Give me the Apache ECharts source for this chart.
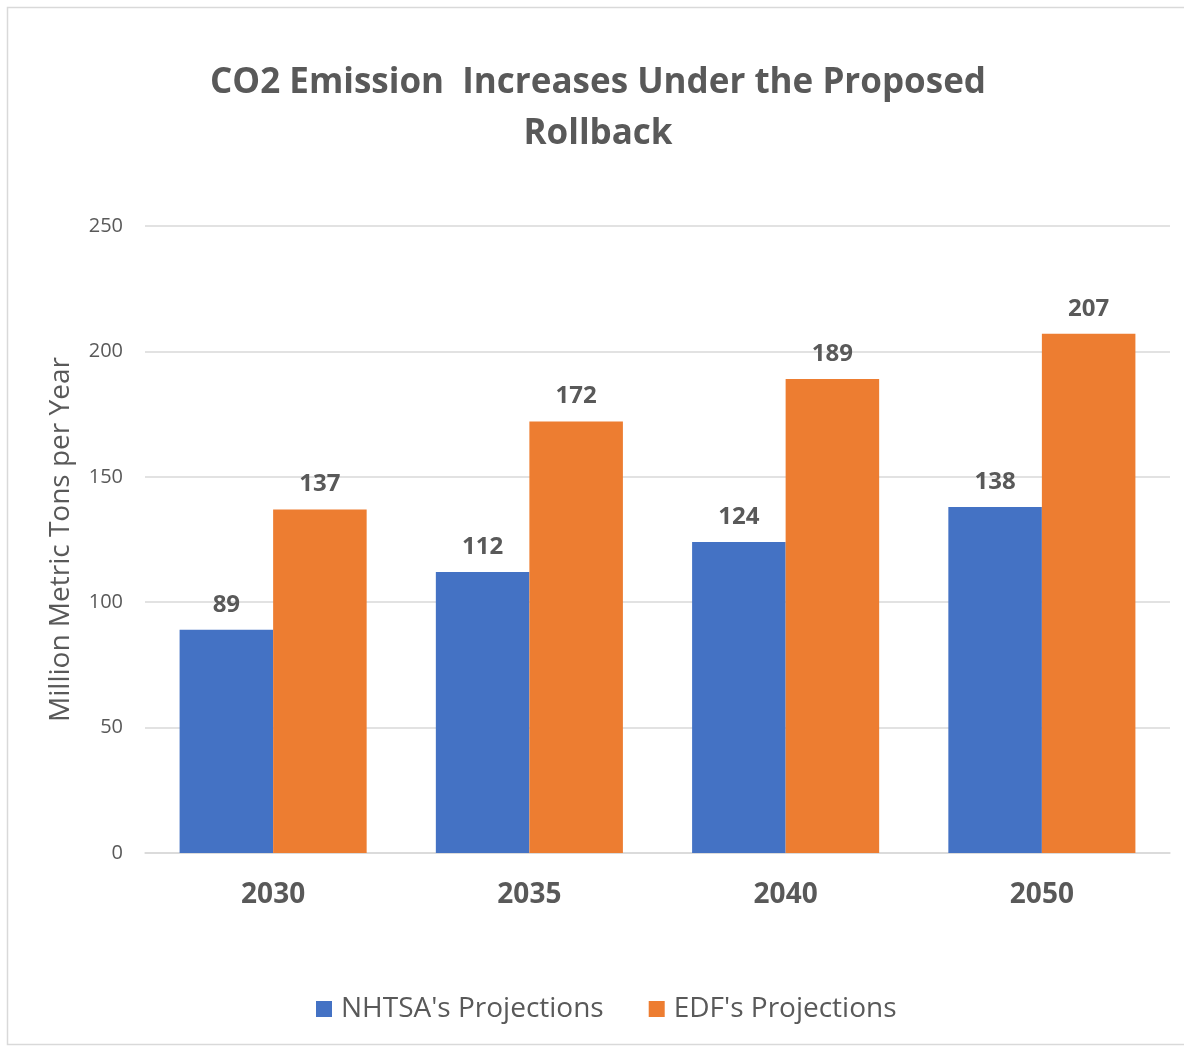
<!DOCTYPE html>
<html><head><meta charset="utf-8">
<script src="https://cdn.jsdelivr.net/npm/echarts@6/dist/echarts.min.js"></script>
<style>html,body{margin:0;padding:0;background:#fff}#c{width:1184px;height:1049px}</style>
</head><body><div id="c"></div>
<script>
const categories = ['2030', '2035', '2040', '2050'];
const nhtsa = [89, 112, 124, 138];
const edf = [137, 172, 189, 207];
const yTicks = [0, 50, 100, 150, 200, 250];

const chart = echarts.init(document.getElementById('c'), null, {renderer: 'canvas'});
const FONT = '"Open Sans", "Noto Sans", sans-serif';
const GRAY = '#595959';
chart.setOption({
  animation: false,
  textStyle: {fontFamily: FONT},
  graphic: [{type: 'rect', shape: {x: 7.5, y: 7.5, width: 1200, height: 1037}, style: {fill: 'none', stroke: '#D9D9D9', lineWidth: 1.5}}],
  title: {
    text: 'CO2 Emission  Increases Under the Proposed\nRollback',
    left: 593, textAlign: 'center', top: 53,
    textStyle: {fontFamily: FONT, fontSize: 35, fontWeight: 'bold', color: GRAY, lineHeight: 51}
  },
  legend: {
    bottom: 26, left: 316, itemWidth: 16, itemHeight: 16, itemGap: 45, icon: 'rect', padding: 0,
    textStyle: {fontFamily: FONT, fontSize: 28, color: GRAY, padding: [0, 0, 0, 4]},
    data: ["NHTSA's Projections", "EDF's Projections"]
  },
  grid: {left: 145, right: 14, top: 226, bottom: 196, containLabel: false},
  xAxis: {
    type: 'category', data: categories,
    axisLine: {lineStyle: {color: '#D9D9D9', width: 1.5}},
    axisTick: {show: false},
    axisLabel: {fontFamily: FONT, fontSize: 28, fontWeight: 'bold', color: GRAY, margin: 28}
  },
  yAxis: {
    type: 'value', min: yTicks[0], max: yTicks[yTicks.length - 1], interval: 50,
    name: 'Million Metric Tons per Year', nameLocation: 'middle', nameGap: 70, nameRotate: 90,
    nameTextStyle: {fontFamily: FONT, fontSize: 28, color: GRAY},
    axisLine: {show: false}, axisTick: {show: false},
    axisLabel: {fontFamily: FONT, fontSize: 20, color: GRAY, margin: 22},
    splitLine: {lineStyle: {color: '#D9D9D9', width: 1.5}}
  },
  series: [
    {name: "NHTSA's Projections", type: 'bar', data: nhtsa, barGap: '0%', barCategoryGap: '27%',
     itemStyle: {color: '#4472C4'},
     label: {show: true, position: 'top', distance: 13, fontFamily: FONT, fontSize: 24, fontWeight: 'bold', color: GRAY}},
    {name: "EDF's Projections", type: 'bar', data: edf, barGap: '0%', barCategoryGap: '27%',
     itemStyle: {color: '#ED7D31'},
     label: {show: true, position: 'top', distance: 13, fontFamily: FONT, fontSize: 24, fontWeight: 'bold', color: GRAY}}
  ]
});
</script></body></html>
